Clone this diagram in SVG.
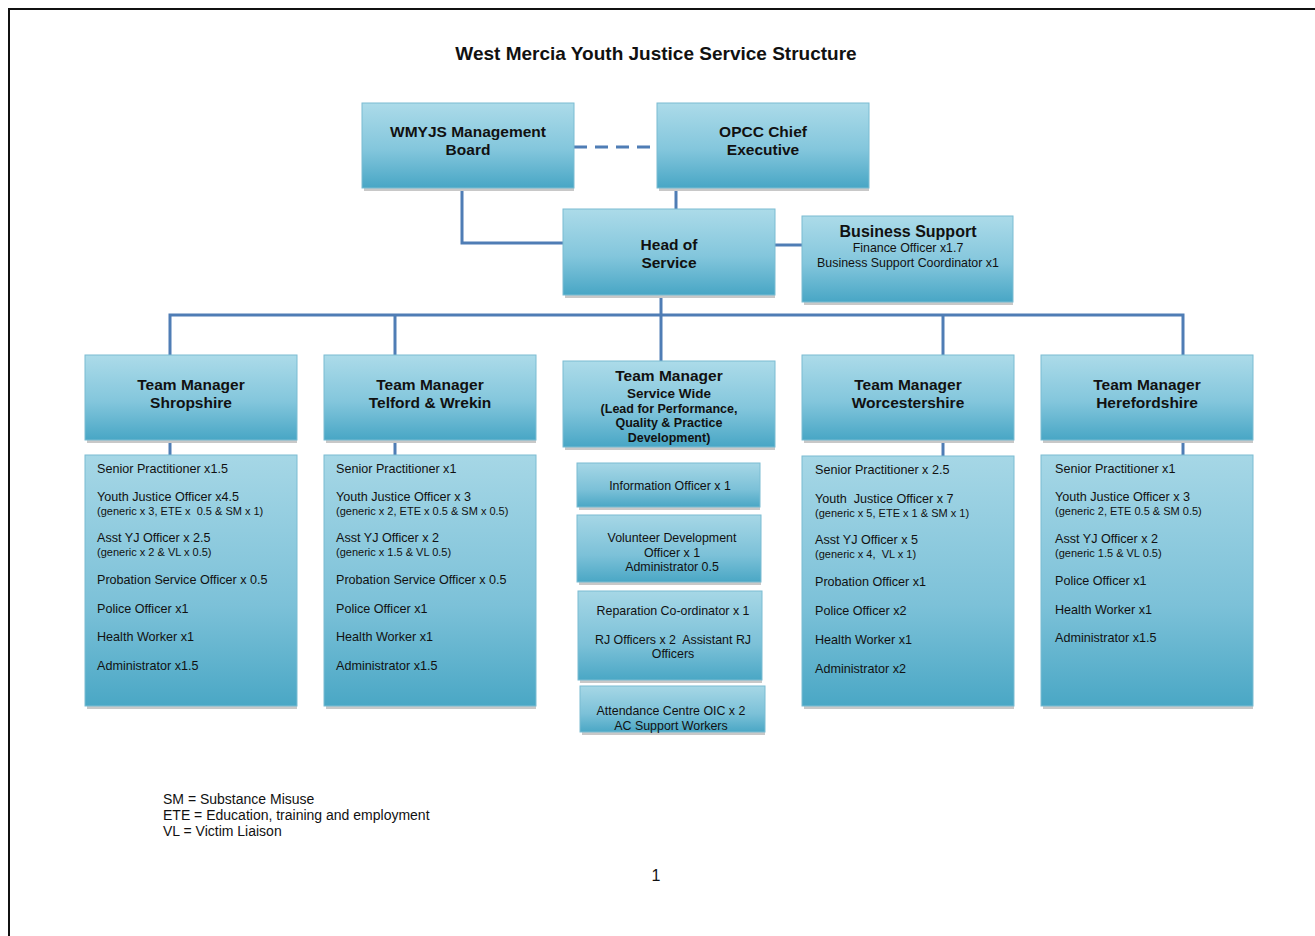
<svg xmlns="http://www.w3.org/2000/svg" width="1315" height="936" viewBox="0 0 1315 936" xml:space="preserve">
<defs>
<linearGradient id="g" x1="0" y1="0" x2="0" y2="1">
<stop offset="0" stop-color="#acdbe9"/>
<stop offset="0.55" stop-color="#83c6dc"/>
<stop offset="1" stop-color="#48a6c5"/>
</linearGradient>
<linearGradient id="g2" x1="0" y1="0" x2="0" y2="1">
<stop offset="0" stop-color="#a6d7e6"/>
<stop offset="0.6" stop-color="#7cc1d8"/>
<stop offset="1" stop-color="#4aa7c5"/>
</linearGradient>
<style>
.box{fill:url(#g);stroke:#7bbcd2;stroke-width:1}
.sbox{fill:url(#g2);stroke:#7bbcd2;stroke-width:1}
.sh{fill:#c8c8c8}
.c{fill:none;stroke:#4f7db5;stroke-width:3}
.t{font-family:"Liberation Sans",Arial,sans-serif;fill:#111;white-space:pre}
.b{font-weight:bold;font-size:15.5px;text-anchor:middle}
.s{font-size:12.6px}
.xs{font-size:11px}
.m{font-size:12.4px;text-anchor:middle}
</style>
</defs>
<rect width="1315" height="936" fill="#fff"/>
<path d="M9 940 V9 H1320" fill="none" stroke="#111" stroke-width="2"/>
<text class="t" x="656" y="60" font-size="19" font-weight="bold" text-anchor="middle">West Mercia Youth Justice Service Structure</text>

<g id="connectors">
<path class="c" d="M574 147 H657" stroke-dasharray="13,8"/>
<path class="c" d="M462 188 V243 H563"/>
<path class="c" d="M676 188 V209"/>
<path class="c" d="M775 245 H802"/>
<path class="c" d="M661 295 V361"/>
<path class="c" d="M170 355 V315 H1183 V355"/>
<path class="c" d="M395 315 V355"/>
<path class="c" d="M943 315 V355"/>
<path class="c" d="M170 440 V455"/>
<path class="c" d="M395 440 V455"/>
<path class="c" d="M943 440 V456"/>
<path class="c" d="M1183 440 V455"/>
</g>

<g id="wmyjs">
<rect class="sh" x="364" y="188" width="210" height="3"/>
<rect class="box" x="362" y="103" width="212" height="85"/>
<text class="t b" x="468" y="137">WMYJS Management</text>
<text class="t b" x="468" y="155">Board</text>
</g>
<g id="opcc">
<rect class="sh" x="659" y="188" width="210" height="3"/>
<rect class="box" x="657" y="103" width="212" height="85"/>
<text class="t b" x="763" y="137">OPCC Chief</text>
<text class="t b" x="763" y="155">Executive</text>
</g>
<g id="head">
<rect class="sh" x="565" y="295" width="210" height="3"/>
<rect class="box" x="563" y="209" width="212" height="86"/>
<text class="t b" x="669" y="250">Head of</text>
<text class="t b" x="669" y="268">Service</text>
</g>
<g id="business">
<rect class="sh" x="804" y="302" width="209" height="3"/>
<rect class="box" x="802" y="216" width="211" height="86"/>
<text class="t" x="908" y="237" font-size="16" font-weight="bold" text-anchor="middle">Business Support</text>
<text class="t m" x="908" y="252">Finance Officer x1.7</text>
<text class="t m" x="908" y="267">Business Support Coordinator x1</text>
</g>

<g id="tm-shropshire">
<rect class="sh" x="87" y="440" width="210" height="3"/>
<rect class="box" x="85" y="355" width="212" height="85"/>
<text class="t b" x="191" y="390">Team Manager</text>
<text class="t b" x="191" y="408">Shropshire</text>
</g>
<g id="tm-telford">
<rect class="sh" x="326" y="440" width="210" height="3"/>
<rect class="box" x="324" y="355" width="212" height="85"/>
<text class="t b" x="430" y="390">Team Manager</text>
<text class="t b" x="430" y="408">Telford &amp; Wrekin</text>
</g>
<g id="tm-servicewide">
<rect class="sh" x="565" y="447" width="210" height="3"/>
<rect class="box" x="563" y="361" width="212" height="86"/>
<text class="t b" x="669" y="381">Team Manager</text>
<text class="t" x="669" y="398" font-size="13.5" font-weight="bold" text-anchor="middle">Service Wide</text>
<text class="t" x="669" y="413" font-size="12.5" font-weight="bold" text-anchor="middle">(Lead for Performance,</text>
<text class="t" x="669" y="427" font-size="12.5" font-weight="bold" text-anchor="middle">Quality &amp; Practice</text>
<text class="t" x="669" y="442" font-size="12.5" font-weight="bold" text-anchor="middle">Development)</text>
</g>
<g id="tm-worcestershire">
<rect class="sh" x="804" y="440" width="210" height="3"/>
<rect class="box" x="802" y="355" width="212" height="85"/>
<text class="t b" x="908" y="390">Team Manager</text>
<text class="t b" x="908" y="408">Worcestershire</text>
</g>
<g id="tm-herefordshire">
<rect class="sh" x="1043" y="440" width="210" height="3"/>
<rect class="box" x="1041" y="355" width="212" height="85"/>
<text class="t b" x="1147" y="390">Team Manager</text>
<text class="t b" x="1147" y="408">Herefordshire</text>
</g>

<g id="staff-shropshire">
<rect class="sh" x="87" y="706" width="210" height="3"/>
<rect class="sbox" x="85" y="455" width="212" height="251"/>
<text class="t s" x="97" y="473">Senior Practitioner x1.5</text>
<text class="t s" x="97" y="501">Youth Justice Officer x4.5</text>
<text class="t xs" x="97" y="515">(generic x 3, ETE x  0.5 &amp; SM x 1)</text>
<text class="t s" x="97" y="542">Asst YJ Officer x 2.5</text>
<text class="t xs" x="97" y="556">(generic x 2 &amp; VL x 0.5)</text>
<text class="t s" x="97" y="584">Probation Service Officer x 0.5</text>
<text class="t s" x="97" y="613">Police Officer x1</text>
<text class="t s" x="97" y="641">Health Worker x1</text>
<text class="t s" x="97" y="670">Administrator x1.5</text>
</g>
<g id="staff-telford">
<rect class="sh" x="326" y="706" width="210" height="3"/>
<rect class="sbox" x="324" y="455" width="212" height="251"/>
<text class="t s" x="336" y="473">Senior Practitioner x1</text>
<text class="t s" x="336" y="501">Youth Justice Officer x 3</text>
<text class="t xs" x="336" y="515">(generic x 2, ETE x 0.5 &amp; SM x 0.5)</text>
<text class="t s" x="336" y="542">Asst YJ Officer x 2</text>
<text class="t xs" x="336" y="556">(generic x 1.5 &amp; VL 0.5)</text>
<text class="t s" x="336" y="584">Probation Service Officer x 0.5</text>
<text class="t s" x="336" y="613">Police Officer x1</text>
<text class="t s" x="336" y="641">Health Worker x1</text>
<text class="t s" x="336" y="670">Administrator x1.5</text>
</g>
<g id="info-officer">
<rect class="sh" x="579" y="507" width="181" height="3"/>
<rect class="sbox" x="577" y="463" width="183" height="44"/>
<text class="t m" x="670" y="490">Information Officer x 1</text>
</g>
<g id="volunteer">
<rect class="sh" x="579" y="582" width="182" height="3"/>
<rect class="sbox" x="577" y="515" width="184" height="67"/>
<text class="t m" x="672" y="542">Volunteer Development</text>
<text class="t m" x="672" y="557">Officer x 1</text>
<text class="t m" x="672" y="571">Administrator 0.5</text>
</g>
<g id="reparation">
<rect class="sh" x="580" y="680" width="182" height="3"/>
<rect class="sbox" x="578" y="591" width="184" height="89"/>
<text class="t m" x="673" y="615">Reparation Co-ordinator x 1</text>
<text class="t m" x="673" y="644">RJ Officers x 2  Assistant RJ</text>
<text class="t m" x="673" y="658">Officers</text>
</g>
<g id="attendance">
<rect class="sh" x="582" y="732" width="183" height="3"/>
<rect class="sbox" x="580" y="686" width="185" height="46"/>
<text class="t m" x="671" y="715">Attendance Centre OIC x 2</text>
<text class="t m" x="671" y="730">AC Support Workers</text>
</g>
<g id="staff-worcestershire">
<rect class="sh" x="804" y="706" width="210" height="3"/>
<rect class="sbox" x="802" y="456" width="212" height="250"/>
<text class="t s" x="815" y="474">Senior Practitioner x 2.5</text>
<text class="t s" x="815" y="503">Youth  Justice Officer x 7</text>
<text class="t xs" x="815" y="517">(generic x 5, ETE x 1 &amp; SM x 1)</text>
<text class="t s" x="815" y="544">Asst YJ Officer x 5</text>
<text class="t xs" x="815" y="558">(generic x 4,  VL x 1)</text>
<text class="t s" x="815" y="586">Probation Officer x1</text>
<text class="t s" x="815" y="615">Police Officer x2</text>
<text class="t s" x="815" y="644">Health Worker x1</text>
<text class="t s" x="815" y="673">Administrator x2</text>
</g>
<g id="staff-herefordshire">
<rect class="sh" x="1043" y="706" width="210" height="3"/>
<rect class="sbox" x="1041" y="455" width="212" height="251"/>
<text class="t s" x="1055" y="473">Senior Practitioner x1</text>
<text class="t s" x="1055" y="501">Youth Justice Officer x 3</text>
<text class="t xs" x="1055" y="515">(generic 2, ETE 0.5 &amp; SM 0.5)</text>
<text class="t s" x="1055" y="543">Asst YJ Officer x 2</text>
<text class="t xs" x="1055" y="557">(generic 1.5 &amp; VL 0.5)</text>
<text class="t s" x="1055" y="585">Police Officer x1</text>
<text class="t s" x="1055" y="614">Health Worker x1</text>
<text class="t s" x="1055" y="642">Administrator x1.5</text>
</g>

<g id="legend">
<text class="t" x="163" y="804" font-size="14">SM = Substance Misuse</text>
<text class="t" x="163" y="820" font-size="14">ETE = Education, training and employment</text>
<text class="t" x="163" y="836" font-size="14">VL = Victim Liaison</text>
</g>
<text class="t" x="656" y="881" font-size="16" text-anchor="middle">1</text>
</svg>
